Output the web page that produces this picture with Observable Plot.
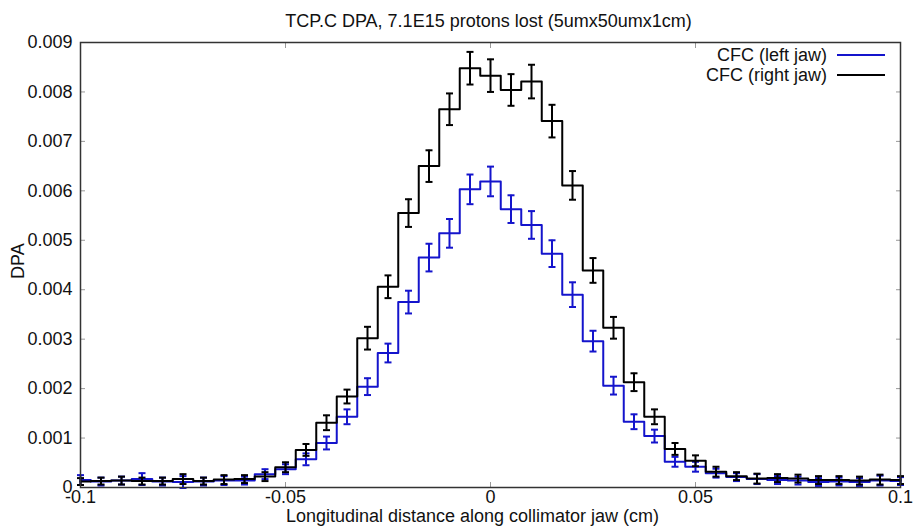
<!DOCTYPE html>
<html>
<head>
<meta charset="utf-8">
<script src="https://cdn.jsdelivr.net/npm/d3@7"></script>
<script src="https://cdn.jsdelivr.net/npm/@observablehq/plot@0.6"></script>
<style>
  html, body { margin: 0; padding: 0; background: #fff; }
  #wrap { position: relative; width: 915px; height: 532px; font-family: "Liberation Sans", Arial, sans-serif; }
  #legend { position: absolute; right: 30px; top: 45px; font-size: 18px; color: #111; }
  .row { display: flex; align-items: center; justify-content: flex-end; height: 20px; }
  .sw { display: inline-block; width: 48px; height: 0; border-top: 2px solid; margin-left: 10px; }
</style>
</head>
<body>
<div id="wrap">
  <div id="chart"></div>
  <div id="legend"></div>
</div>
<script>
const title = "TCP.C DPA, 7.1E15 protons lost (5umx50umx1cm)";
const xLabel = "Longitudinal distance along collimator jaw (cm)";
const yLabel = "DPA";
const seriesNames = ["CFC (left jaw)", "CFC (right jaw)"];
const seriesColors = ["#1414cc", "#000000"];

const xTicks = [-0.1, -0.05, 0, 0.05, 0.1];
const yTicks = [0, 0.001, 0.002, 0.003, 0.004, 0.005, 0.006, 0.007, 0.008, 0.009];

// bin centres (cm)
const binX = [-0.1, -0.095, -0.09, -0.085, -0.08, -0.075, -0.07, -0.065, -0.06, -0.055,
  -0.05, -0.045, -0.04, -0.035, -0.03, -0.025, -0.02, -0.015, -0.01, -0.005,
  0, 0.005, 0.01, 0.015, 0.02, 0.025, 0.03, 0.035, 0.04, 0.045,
  0.05, 0.055, 0.06, 0.065, 0.07, 0.075, 0.08, 0.085, 0.09, 0.095, 0.1];

// CFC (left jaw) - blue
const leftDPA = [0.00015, 0.00012, 0.00014, 0.00017, 0.00012, 0.00011, 0.00012, 0.00014, 0.00014, 0.00027,
  0.00037, 0.00057, 0.00090, 0.00143, 0.00204, 0.00272, 0.00375, 0.00465, 0.00514, 0.00603,
  0.00619, 0.00563, 0.00531, 0.00473, 0.00390, 0.00296, 0.00206, 0.00133, 0.00104, 0.00052,
  0.00042, 0.00029, 0.00021, 0.00017, 0.00015, 0.00014, 0.00011, 0.00012, 0.00011, 0.00014, 0.00013];
const leftErr = [0.00010, 0.00008, 0.00008, 0.00012, 0.00008, 0.00012, 0.00008, 0.00009, 0.00008, 0.00010,
  0.00010, 0.00012, 0.00013, 0.00015, 0.00017, 0.00019, 0.00023, 0.00028, 0.00029, 0.00030,
  0.00030, 0.00028, 0.00028, 0.00027, 0.00025, 0.00021, 0.00018, 0.00015, 0.00013, 0.00010,
  0.00010, 0.00009, 0.00008, 0.00010, 0.00008, 0.00008, 0.00008, 0.00008, 0.00008, 0.00010, 0.00008];

// CFC (right jaw) - black
const rightDPA = [0.00012, 0.00013, 0.00014, 0.00013, 0.00013, 0.00017, 0.00013, 0.00016, 0.00017, 0.00022,
  0.00041, 0.00076, 0.00131, 0.00184, 0.00302, 0.00406, 0.00555, 0.00650, 0.00765, 0.00848,
  0.00833, 0.00804, 0.00821, 0.00741, 0.00611, 0.00439, 0.00323, 0.00213, 0.00143, 0.00078,
  0.00054, 0.00032, 0.00023, 0.00018, 0.00019, 0.00018, 0.00015, 0.00015, 0.00014, 0.00016, 0.00015];
const rightErr = [0.00007, 0.00007, 0.00008, 0.00007, 0.00007, 0.00010, 0.00007, 0.00009, 0.00008, 0.00009,
  0.00010, 0.00012, 0.00015, 0.00014, 0.00023, 0.00023, 0.00028, 0.00032, 0.00032, 0.00033,
  0.00033, 0.00032, 0.00034, 0.00033, 0.00029, 0.00025, 0.00022, 0.00018, 0.00015, 0.00012,
  0.00011, 0.00010, 0.00008, 0.00010, 0.00008, 0.00008, 0.00008, 0.00008, 0.00008, 0.00010, 0.00008];

const left = binX.map((x, i) => ({x, v: leftDPA[i], e: leftErr[i]}));
const right = binX.map((x, i) => ({x, v: rightDPA[i], e: rightErr[i]}));

const capSymbol = {draw(ctx) { ctx.moveTo(-3.5, 0); ctx.lineTo(3.5, 0); }};
const fmt = d => String(d);

function seriesMarks(data, color) {
  return [
    Plot.line(data, {x: "x", y: "v", curve: "step", stroke: color, strokeWidth: 2}),
    Plot.ruleX(data, {x: "x", y1: d => d.v - d.e, y2: d => d.v + d.e, stroke: color, strokeWidth: 2}),
    Plot.dot(data, {x: "x", y: d => d.v - d.e, symbol: capSymbol, fill: "none", stroke: color, strokeWidth: 2}),
    Plot.dot(data, {x: "x", y: d => d.v + d.e, symbol: capSymbol, fill: "none", stroke: color, strokeWidth: 2})
  ];
}

const chart = Plot.plot({
  width: 915,
  height: 532,
  marginLeft: 80,
  marginRight: 15,
  marginTop: 42,
  marginBottom: 45,
  style: {fontFamily: "Liberation Sans, Arial, sans-serif", fontSize: "18px", color: "#111", background: "#fff"},
  x: {domain: [-0.1, 0.1]},
  y: {domain: [0, 0.009]},
  marks: [
    // inward ticks
    Plot.axisX(xTicks, {anchor: "bottom", tickSize: -5, fill: "none", stroke: "#999", label: null}),
    Plot.axisX(xTicks, {anchor: "top", tickSize: -5, fill: "none", stroke: "#999", label: null}),
    Plot.axisY(yTicks, {anchor: "left", tickSize: -5, fill: "none", stroke: "#999", label: null}),
    Plot.axisY(yTicks, {anchor: "right", tickSize: -5, fill: "none", stroke: "#999", label: null}),
    // tick labels
    Plot.axisX(xTicks, {anchor: "bottom", tickSize: 0, tickPadding: 3, tickFormat: fmt, label: null, fontSize: 18}),
    Plot.axisY(yTicks, {anchor: "left", tickSize: 0, tickPadding: 8, tickFormat: fmt, label: null, fontSize: 18}),
    ...seriesMarks(left, seriesColors[0]),
    ...seriesMarks(right, seriesColors[1]),
    Plot.frame({stroke: "#333", strokeWidth: 1.5}),
    Plot.text([title], {frameAnchor: "top", dy: -28, dx: -2, fontSize: 18}),
    Plot.text([xLabel], {frameAnchor: "bottom", dy: 34, dx: -18, fontSize: 18}),
    Plot.text([yLabel], {frameAnchor: "left", dx: -62, dy: 14, rotate: -90, fontSize: 18})
  ]
});
document.getElementById("chart").appendChild(chart);

const legend = document.getElementById("legend");
seriesNames.forEach((name, i) => {
  const row = document.createElement("div");
  row.className = "row";
  const t = document.createElement("span");
  t.textContent = name;
  const sw = document.createElement("span");
  sw.className = "sw";
  sw.style.borderTopColor = seriesColors[i];
  row.appendChild(t);
  row.appendChild(sw);
  legend.appendChild(row);
});
</script>
</body>
</html>
